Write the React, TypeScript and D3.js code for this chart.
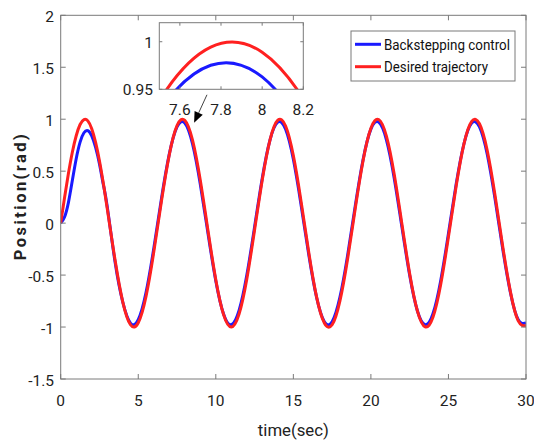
import React from "react";
import * as d3 from "d3";

// ---- data ----
const timeSec = [
  0, 0.25, 0.5, 0.75, 1, 1.25, 1.5, 1.75, 2, 2.25, 2.5, 2.75, 3, 3.5, 4, 4.5, 5, 5.5, 6, 6.5, 7, 7.5, 8, 8.5, 9, 9.5,
  10, 10.5, 11, 11.5, 12, 12.5, 13, 13.5, 14, 14.5, 15, 15.5, 16, 16.5, 17, 17.5, 18, 18.5, 19, 19.5, 20, 20.5, 21,
  21.5, 22, 22.5, 23, 23.5, 24, 24.5, 25, 25.5, 26, 26.5, 27, 27.5, 28, 28.5, 29, 29.5, 30,
];
const desired = [
  0, 0.247, 0.479, 0.682, 0.841, 0.949, 0.997, 0.984, 0.909, 0.778, 0.598, 0.382, 0.141, -0.351, -0.757, -0.978,
  -0.959, -0.706, -0.279, 0.215, 0.657, 0.938, 0.989, 0.798, 0.412, -0.075, -0.544, -0.88, -1.0, -0.875, -0.537,
  -0.066, 0.42, 0.804, 0.991, 0.935, 0.65, 0.207, -0.288, -0.712, -0.961, -0.978, -0.751, -0.343, 0.15, 0.606, 0.913,
  0.997, 0.837, 0.472, -0.009, -0.487, -0.846, -0.998, -0.906, -0.591, -0.132, 0.359, 0.763, 0.98, 0.956, 0.699,
  0.271, -0.224, -0.664, -0.941, -0.988,
];
const backstepping = [
  0, 0.06, 0.2, 0.41, 0.62, 0.78, 0.87, 0.89, 0.84, 0.73, 0.57, 0.37, 0.16, -0.37, -0.759, -0.962, -0.929, -0.668,
  -0.244, 0.239, 0.664, 0.927, 0.963, 0.762, 0.375, -0.103, -0.556, -0.874, -0.977, -0.841, -0.5, -0.036, 0.437,
  0.803, 0.972, 0.904, 0.614, 0.173, -0.309, -0.716, -0.949, -0.949, -0.715, -0.308, 0.175, 0.615, 0.905, 0.972,
  0.802, 0.435, -0.038, -0.502, -0.846, -0.977, -0.873, -0.554, -0.1, 0.378, 0.764, 0.963, 0.926, 0.663, 0.236,
  -0.248, -0.672, -0.93, -0.961,
];
const seriesNames = ["Backstepping control", "Desired trajectory"];
const seriesColors = ["#1a1aff", "#ff2020"];

const xTicks = [0, 5, 10, 15, 20, 25, 30];
const yTicks = [-1.5, -1, -0.5, 0, 0.5, 1, 1.5, 2];
const insetXTicks = [7.6, 7.8, 8, 8.2];
const insetYTicks = [0.95, 1];
const xLabel = "time(sec)";
const yLabel = "Position(rad)";
// arrow annotation in data units: [tStart, yStart, tEnd, yEnd]
const arrowFrom = [9.43, 1.235];
const arrowTo = [8.6, 0.965];

const W = 534;
const H = 442;
const axisColor = "#7a7a7a";
const FONT = "Roboto, 'Noto Sans', sans-serif";

export default function App() {
  const x = d3.scaleLinear().domain([0, 30]).range([60.7, 526]);
  const y = d3.scaleLinear().domain([-1.5, 2]).range([379, 15.3]);
  const ix = d3.scaleLinear().domain([7.5, 8.2]).range([159.3, 303.3]);
  const iy = d3.scaleLinear().domain([0.95, 1.02]).range([89.3, 22.7]);

  const series = [backstepping, desired];
  const mk = (sx: any, sy: any, vals: number[]) =>
    d3
      .line<number>()
      .x((_, i) => sx(timeSec[i]))
      .y((v) => sy(v))
      .curve(d3.curveNatural)(vals) as string;

  const [x0, x1] = x.range();
  const [yb, yt] = y.range();
  const [ix0, ix1] = ix.range();
  const [iyb, iyt] = iy.range();
  const tick = 5;

  // arrow geometry
  const ax0 = x(arrowFrom[0]);
  const ay0 = y(arrowFrom[1]);
  const ax1 = x(arrowTo[0]);
  const ay1 = y(arrowTo[1]);
  const len = Math.hypot(ax1 - ax0, ay1 - ay0);
  const ux = (ax1 - ax0) / len;
  const uy = (ay1 - ay0) / len;
  const headL = 11;
  const headW = 4.5;
  const bx = ax1 - ux * headL;
  const by = ay1 - uy * headL;
  const head = `M${ax1},${ay1} L${bx - uy * headW},${by + ux * headW} L${bx + uy * headW},${by - ux * headW} Z`;

  return (
    <svg width={W} height={H} style={{ position: "absolute", left: 0, top: 0, background: "#fff" }} fontFamily={FONT}>
      <defs>
        <clipPath id="mainClip">
          <rect x={x0} y={yt} width={x1 - x0} height={yb - yt} />
        </clipPath>
        <clipPath id="insetClip">
          <rect x={ix0} y={iyt} width={ix1 - ix0} height={iyb - iyt} />
        </clipPath>
      </defs>
      <rect x={0} y={0} width={W} height={H} fill="#fff" />

      {/* main series */}
      <g clipPath="url(#mainClip)">
        {series.map((s, k) => (
          <path key={k} d={mk(x, y, s)} fill="none" stroke={seriesColors[k]} strokeWidth={3} strokeLinejoin="round" />
        ))}
      </g>

      {/* main axes box */}
      <rect x={x0} y={yt} width={x1 - x0} height={yb - yt} fill="none" stroke={axisColor} strokeWidth={1} />
      {xTicks.map((t) => (
        <g key={"xt" + t}>
          <line x1={x(t)} x2={x(t)} y1={yb} y2={yb - tick} stroke={axisColor} />
          <line x1={x(t)} x2={x(t)} y1={yt} y2={yt + tick} stroke={axisColor} />
          <text x={x(t)} y={406} textAnchor="middle" fontSize={15.5} fill="#222">
            {t}
          </text>
        </g>
      ))}
      {yTicks.map((t) => (
        <g key={"yt" + t}>
          <line x1={x0} x2={x0 + tick} y1={y(t)} y2={y(t)} stroke={axisColor} />
          <line x1={x1} x2={x1 - tick} y1={y(t)} y2={y(t)} stroke={axisColor} />
          <text x={54} y={y(t) + 7} textAnchor="end" fontSize={15.5} fill="#222">
            {t}
          </text>
        </g>
      ))}
      <text x={(x0 + x1) / 2} y={436} textAnchor="middle" fontSize={17} fill="#222" textLength={71} lengthAdjust="spacingAndGlyphs">
        {xLabel}
      </text>
      <text
        transform={`translate(25.5,${(yt + yb) / 2}) rotate(-90)`}
        textAnchor="middle"
        fontSize={16.5}
        fontWeight="bold"
        fill="#222"
        textLength={126}
        lengthAdjust="spacing"
      >
        {yLabel}
      </text>

      {/* legend */}
      <rect x={351} y={31} width={164} height={50} fill="#fff" stroke={axisColor} strokeWidth={1} />
      {seriesNames.map((n, k) => (
        <g key={n}>
          <line x1={355} x2={381} y1={44.3 + k * 22.4} y2={44.3 + k * 22.4} stroke={seriesColors[k]} strokeWidth={3} />
          <text
            x={384}
            y={44.3 + k * 22.4 + 5.3}
            fontSize={14.5}
            fill="#111"
            textLength={k === 0 ? 126 : 104}
            lengthAdjust="spacingAndGlyphs"
          >
            {n}
          </text>
        </g>
      ))}

      {/* inset */}
      <rect x={ix0} y={iyt} width={ix1 - ix0} height={iyb - iyt} fill="#fff" />
      <g clipPath="url(#insetClip)">
        {series.map((s, k) => (
          <path key={k} d={mk(ix, iy, s)} fill="none" stroke={seriesColors[k]} strokeWidth={3} />
        ))}
      </g>
      <rect x={ix0} y={iyt} width={ix1 - ix0} height={iyb - iyt} fill="none" stroke={axisColor} strokeWidth={1} />
      {insetXTicks.map((t) => (
        <g key={"ixt" + t}>
          <line x1={ix(t)} x2={ix(t)} y1={iyb} y2={iyb - 3} stroke={axisColor} />
          <line x1={ix(t)} x2={ix(t)} y1={iyt} y2={iyt + 3} stroke={axisColor} />
          <text x={ix(t)} y={115} textAnchor="middle" fontSize={15.5} fill="#222">
            {t}
          </text>
        </g>
      ))}
      {insetYTicks.map((t) => (
        <g key={"iyt" + t}>
          <line x1={ix0} x2={ix0 + 3} y1={iy(t)} y2={iy(t)} stroke={axisColor} />
          <line x1={ix1} x2={ix1 - 3} y1={iy(t)} y2={iy(t)} stroke={axisColor} />
          <text x={153} y={iy(t) + 6} textAnchor="end" fontSize={15.5} fill="#222">
            {t}
          </text>
        </g>
      ))}

      {/* arrow */}
      <line x1={ax0} y1={ay0} x2={bx} y2={by} stroke="#111" strokeWidth={0.8} />
      <path d={head} fill="#000" />
    </svg>
  );
}
